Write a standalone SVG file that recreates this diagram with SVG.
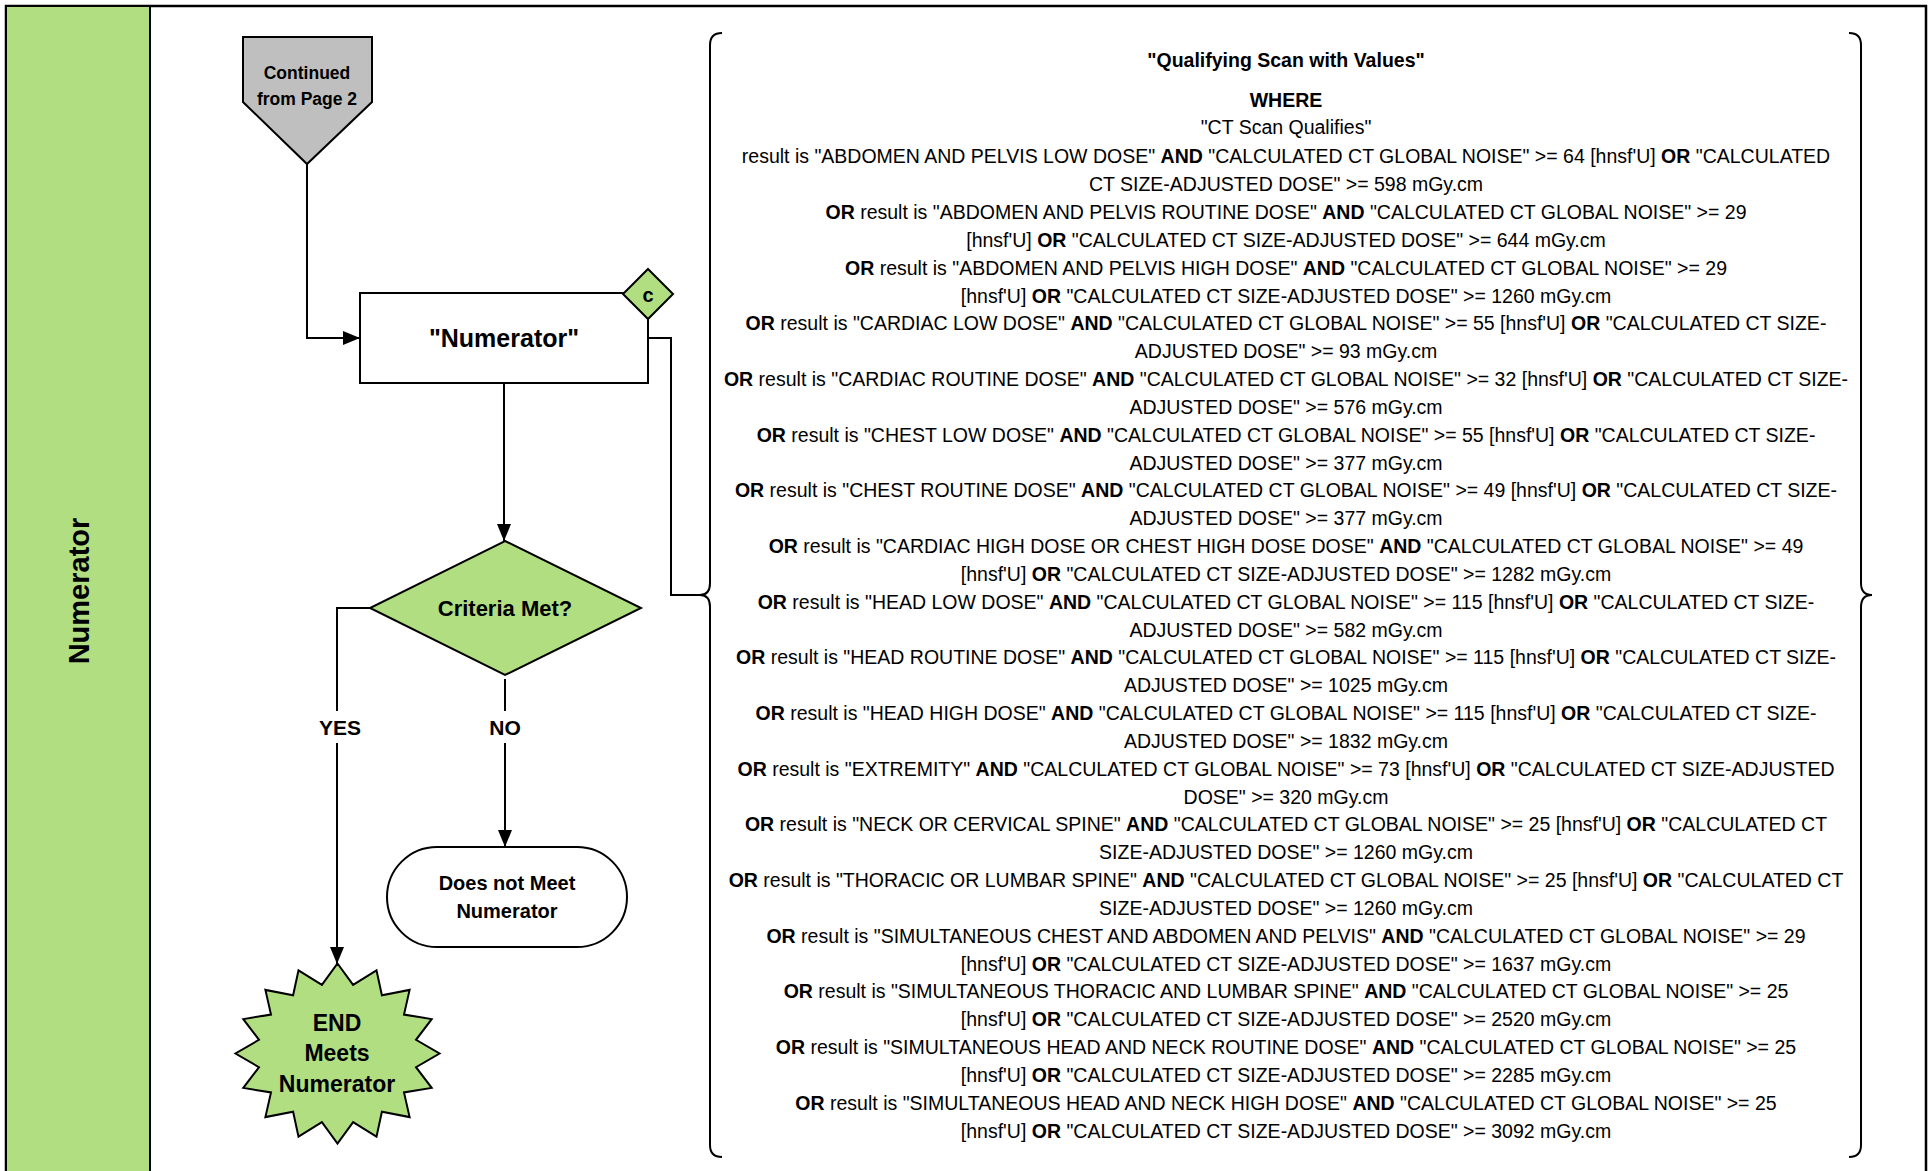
<svg xmlns="http://www.w3.org/2000/svg" width="1931" height="1171" viewBox="0 0 1931 1171">
<defs>
<style>
.ln{fill:none;stroke:#000;stroke-width:2}
.shape{stroke:#000;stroke-width:2}
.g{fill:#b2de82}
.t{font-family:"Liberation Sans",Arial,sans-serif;fill:#000}
.nb{font-family:"Liberation Sans",Arial,sans-serif;font-weight:bold;fill:#000;text-anchor:middle;dominant-baseline:central}
.body{font-family:"Liberation Sans",Arial,sans-serif;font-size:19.5px;text-anchor:middle;fill:#000}
.b{font-weight:bold}
</style>
<marker id="arr" markerWidth="17" markerHeight="14" refX="17" refY="7" orient="auto" markerUnits="userSpaceOnUse"><path d="M0,0 L17,7 L0,14 z" fill="#000"/></marker>
</defs>
<rect x="0" y="0" width="1931" height="1171" fill="#fff"/>
<g id="frame">
<rect x="6" y="6" width="1920" height="1180" fill="#fff" stroke="#000" stroke-width="2.5"/>
</g>
<g id="lane">
<rect x="6" y="6" width="144" height="1180" class="g shape"/>
<text class="nb" font-size="29" transform="translate(79,591) rotate(-90)">Numerator</text>
</g>
<g id="connectors">
<path class="ln" d="M307,164 L307,338 L360,338" marker-end="url(#arr)"/>
<path class="ln" d="M504,383 L504,541" marker-end="url(#arr)"/>
<path class="ln" d="M648,338 L671,338 L671,595 L702,595"/>
<path class="ln" d="M370,608 L337,608 L337,711"/>
<path class="ln" d="M337,743 L337,964" marker-end="url(#arr)"/>
<path class="ln" d="M505,679 L505,711"/>
<path class="ln" d="M505,743 L505,847" marker-end="url(#arr)"/>
<text class="nb" font-size="21" x="340" y="727">YES</text>
<text class="nb" font-size="21" x="505" y="727">NO</text>
</g>
<g id="continued">
<polygon points="243,37 372,37 372,102 307,164 243,102" fill="#bfbfbf" class="shape"/>
<text class="nb" font-size="17.5" x="307" y="73">Continued</text>
<text class="nb" font-size="17.5" x="307" y="99">from Page 2</text>
</g>
<g id="numerator">
<rect x="360" y="293" width="288" height="90" fill="#fff" class="shape"/>
<text class="nb" font-size="25" x="504" y="338">"Numerator"</text>
</g>
<g id="c-marker">
<polygon points="648,269 673,294 648,319 623,294" class="g shape"/>
<text class="nb" font-size="20" x="648" y="295">c</text>
</g>
<g id="criteria">
<polygon points="505,541 641,608 505,675 370,608" class="g shape"/>
<text class="nb" font-size="22" x="505" y="608">Criteria Met?</text>
</g>
<g id="not-meet">
<rect x="387" y="847" width="240" height="100" rx="50" ry="50" fill="#fff" class="shape"/>
<text class="nb" font-size="20" x="507" y="883">Does not Meet</text>
<text class="nb" font-size="20" x="507" y="911">Numerator</text>
</g>
<g id="end">
<polygon class="g shape" points="337.5,963.5 353.1,984.8 376.5,970.3 381.9,995.3 409.6,989.9 404.0,1014.6 431.7,1019.1 416.0,1039.8 439.5,1053.5 416.0,1067.2 431.7,1087.9 404.0,1092.4 409.6,1117.1 381.9,1111.7 376.5,1136.7 353.1,1122.2 337.5,1143.5 321.9,1122.2 298.5,1136.7 293.1,1111.7 265.4,1117.1 271.0,1092.4 243.3,1087.9 259.0,1067.2 235.5,1053.5 259.0,1039.8 243.3,1019.1 271.0,1014.6 265.4,989.9 293.1,995.3 298.5,970.3 321.9,984.8"/>
<text class="nb" font-size="23" x="337" y="1023">END</text>
<text class="nb" font-size="23" x="337" y="1053">Meets</text>
<text class="nb" font-size="23" x="337" y="1084">Numerator</text>
</g>
<g id="annotation">
<path class="ln" stroke-width="2.5" d="M722,33 Q710,33 710,45 L710,583 Q710,595 700,595 Q710,595 710,607 L710,1145 Q710,1157 722,1157"/>
<path class="ln" stroke-width="2.5" d="M1849,33 Q1861,33 1861,45 L1861,583 Q1861,595 1872,595 Q1861,595 1861,607 L1861,1145 Q1861,1157 1849,1157"/>
<text class="body b" font-size="20" x="1286" y="67">"Qualifying Scan with Values"</text>
<text class="body b" x="1286" y="107">WHERE</text>
<text class="body" x="1286" y="134">"CT Scan Qualifies"</text>
<text class="body" x="1286" y="163.4">result is "ABDOMEN AND PELVIS LOW DOSE" <tspan class="b">AND</tspan> "CALCULATED CT GLOBAL NOISE" &gt;= 64 [hnsf'U] <tspan class="b">OR</tspan> "CALCULATED</text>
<text class="body" x="1286" y="191.2">CT SIZE-ADJUSTED DOSE" &gt;= 598 mGy.cm</text>
<text class="body" x="1286" y="219.1"><tspan class="b">OR</tspan> result is "ABDOMEN AND PELVIS ROUTINE DOSE" <tspan class="b">AND</tspan> "CALCULATED CT GLOBAL NOISE" &gt;= 29</text>
<text class="body" x="1286" y="246.9">[hnsf'U] <tspan class="b">OR</tspan> "CALCULATED CT SIZE-ADJUSTED DOSE" &gt;= 644 mGy.cm</text>
<text class="body" x="1286" y="274.7"><tspan class="b">OR</tspan> result is "ABDOMEN AND PELVIS HIGH DOSE" <tspan class="b">AND</tspan> "CALCULATED CT GLOBAL NOISE" &gt;= 29</text>
<text class="body" x="1286" y="302.6">[hnsf'U] <tspan class="b">OR</tspan> "CALCULATED CT SIZE-ADJUSTED DOSE" &gt;= 1260 mGy.cm</text>
<text class="body" x="1286" y="330.4"><tspan class="b">OR</tspan> result is "CARDIAC LOW DOSE" <tspan class="b">AND</tspan> "CALCULATED CT GLOBAL NOISE" &gt;= 55 [hnsf'U] <tspan class="b">OR</tspan> "CALCULATED CT SIZE-</text>
<text class="body" x="1286" y="358.2">ADJUSTED DOSE" &gt;= 93 mGy.cm</text>
<text class="body" x="1286" y="386.0"><tspan class="b">OR</tspan> result is "CARDIAC ROUTINE DOSE" <tspan class="b">AND</tspan> "CALCULATED CT GLOBAL NOISE" &gt;= 32 [hnsf'U] <tspan class="b">OR</tspan> "CALCULATED CT SIZE-</text>
<text class="body" x="1286" y="413.9">ADJUSTED DOSE" &gt;= 576 mGy.cm</text>
<text class="body" x="1286" y="441.7"><tspan class="b">OR</tspan> result is "CHEST LOW DOSE" <tspan class="b">AND</tspan> "CALCULATED CT GLOBAL NOISE" &gt;= 55 [hnsf'U] <tspan class="b">OR</tspan> "CALCULATED CT SIZE-</text>
<text class="body" x="1286" y="469.5">ADJUSTED DOSE" &gt;= 377 mGy.cm</text>
<text class="body" x="1286" y="497.4"><tspan class="b">OR</tspan> result is "CHEST ROUTINE DOSE" <tspan class="b">AND</tspan> "CALCULATED CT GLOBAL NOISE" &gt;= 49 [hnsf'U] <tspan class="b">OR</tspan> "CALCULATED CT SIZE-</text>
<text class="body" x="1286" y="525.2">ADJUSTED DOSE" &gt;= 377 mGy.cm</text>
<text class="body" x="1286" y="553.0"><tspan class="b">OR</tspan> result is "CARDIAC HIGH DOSE OR CHEST HIGH DOSE DOSE" <tspan class="b">AND</tspan> "CALCULATED CT GLOBAL NOISE" &gt;= 49</text>
<text class="body" x="1286" y="580.9">[hnsf'U] <tspan class="b">OR</tspan> "CALCULATED CT SIZE-ADJUSTED DOSE" &gt;= 1282 mGy.cm</text>
<text class="body" x="1286" y="608.7"><tspan class="b">OR</tspan> result is "HEAD LOW DOSE" <tspan class="b">AND</tspan> "CALCULATED CT GLOBAL NOISE" &gt;= 115 [hnsf'U] <tspan class="b">OR</tspan> "CALCULATED CT SIZE-</text>
<text class="body" x="1286" y="636.5">ADJUSTED DOSE" &gt;= 582 mGy.cm</text>
<text class="body" x="1286" y="664.3"><tspan class="b">OR</tspan> result is "HEAD ROUTINE DOSE" <tspan class="b">AND</tspan> "CALCULATED CT GLOBAL NOISE" &gt;= 115 [hnsf'U] <tspan class="b">OR</tspan> "CALCULATED CT SIZE-</text>
<text class="body" x="1286" y="692.2">ADJUSTED DOSE" &gt;= 1025 mGy.cm</text>
<text class="body" x="1286" y="720.0"><tspan class="b">OR</tspan> result is "HEAD HIGH DOSE" <tspan class="b">AND</tspan> "CALCULATED CT GLOBAL NOISE" &gt;= 115 [hnsf'U] <tspan class="b">OR</tspan> "CALCULATED CT SIZE-</text>
<text class="body" x="1286" y="747.8">ADJUSTED DOSE" &gt;= 1832 mGy.cm</text>
<text class="body" x="1286" y="775.7"><tspan class="b">OR</tspan> result is "EXTREMITY" <tspan class="b">AND</tspan> "CALCULATED CT GLOBAL NOISE" &gt;= 73 [hnsf'U] <tspan class="b">OR</tspan> "CALCULATED CT SIZE-ADJUSTED</text>
<text class="body" x="1286" y="803.5">DOSE" &gt;= 320 mGy.cm</text>
<text class="body" x="1286" y="831.3"><tspan class="b">OR</tspan> result is "NECK OR CERVICAL SPINE" <tspan class="b">AND</tspan> "CALCULATED CT GLOBAL NOISE" &gt;= 25 [hnsf'U] <tspan class="b">OR</tspan> "CALCULATED CT</text>
<text class="body" x="1286" y="859.2">SIZE-ADJUSTED DOSE" &gt;= 1260 mGy.cm</text>
<text class="body" x="1286" y="887.0"><tspan class="b">OR</tspan> result is "THORACIC OR LUMBAR SPINE" <tspan class="b">AND</tspan> "CALCULATED CT GLOBAL NOISE" &gt;= 25 [hnsf'U] <tspan class="b">OR</tspan> "CALCULATED CT</text>
<text class="body" x="1286" y="914.8">SIZE-ADJUSTED DOSE" &gt;= 1260 mGy.cm</text>
<text class="body" x="1286" y="942.6"><tspan class="b">OR</tspan> result is "SIMULTANEOUS CHEST AND ABDOMEN AND PELVIS" <tspan class="b">AND</tspan> "CALCULATED CT GLOBAL NOISE" &gt;= 29</text>
<text class="body" x="1286" y="970.5">[hnsf'U] <tspan class="b">OR</tspan> "CALCULATED CT SIZE-ADJUSTED DOSE" &gt;= 1637 mGy.cm</text>
<text class="body" x="1286" y="998.3"><tspan class="b">OR</tspan> result is "SIMULTANEOUS THORACIC AND LUMBAR SPINE" <tspan class="b">AND</tspan> "CALCULATED CT GLOBAL NOISE" &gt;= 25</text>
<text class="body" x="1286" y="1026.1">[hnsf'U] <tspan class="b">OR</tspan> "CALCULATED CT SIZE-ADJUSTED DOSE" &gt;= 2520 mGy.cm</text>
<text class="body" x="1286" y="1054.0"><tspan class="b">OR</tspan> result is "SIMULTANEOUS HEAD AND NECK ROUTINE DOSE" <tspan class="b">AND</tspan> "CALCULATED CT GLOBAL NOISE" &gt;= 25</text>
<text class="body" x="1286" y="1081.8">[hnsf'U] <tspan class="b">OR</tspan> "CALCULATED CT SIZE-ADJUSTED DOSE" &gt;= 2285 mGy.cm</text>
<text class="body" x="1286" y="1109.6"><tspan class="b">OR</tspan> result is "SIMULTANEOUS HEAD AND NECK HIGH DOSE" <tspan class="b">AND</tspan> "CALCULATED CT GLOBAL NOISE" &gt;= 25</text>
<text class="body" x="1286" y="1137.5">[hnsf'U] <tspan class="b">OR</tspan> "CALCULATED CT SIZE-ADJUSTED DOSE" &gt;= 3092 mGy.cm</text>
</g>
</svg>
